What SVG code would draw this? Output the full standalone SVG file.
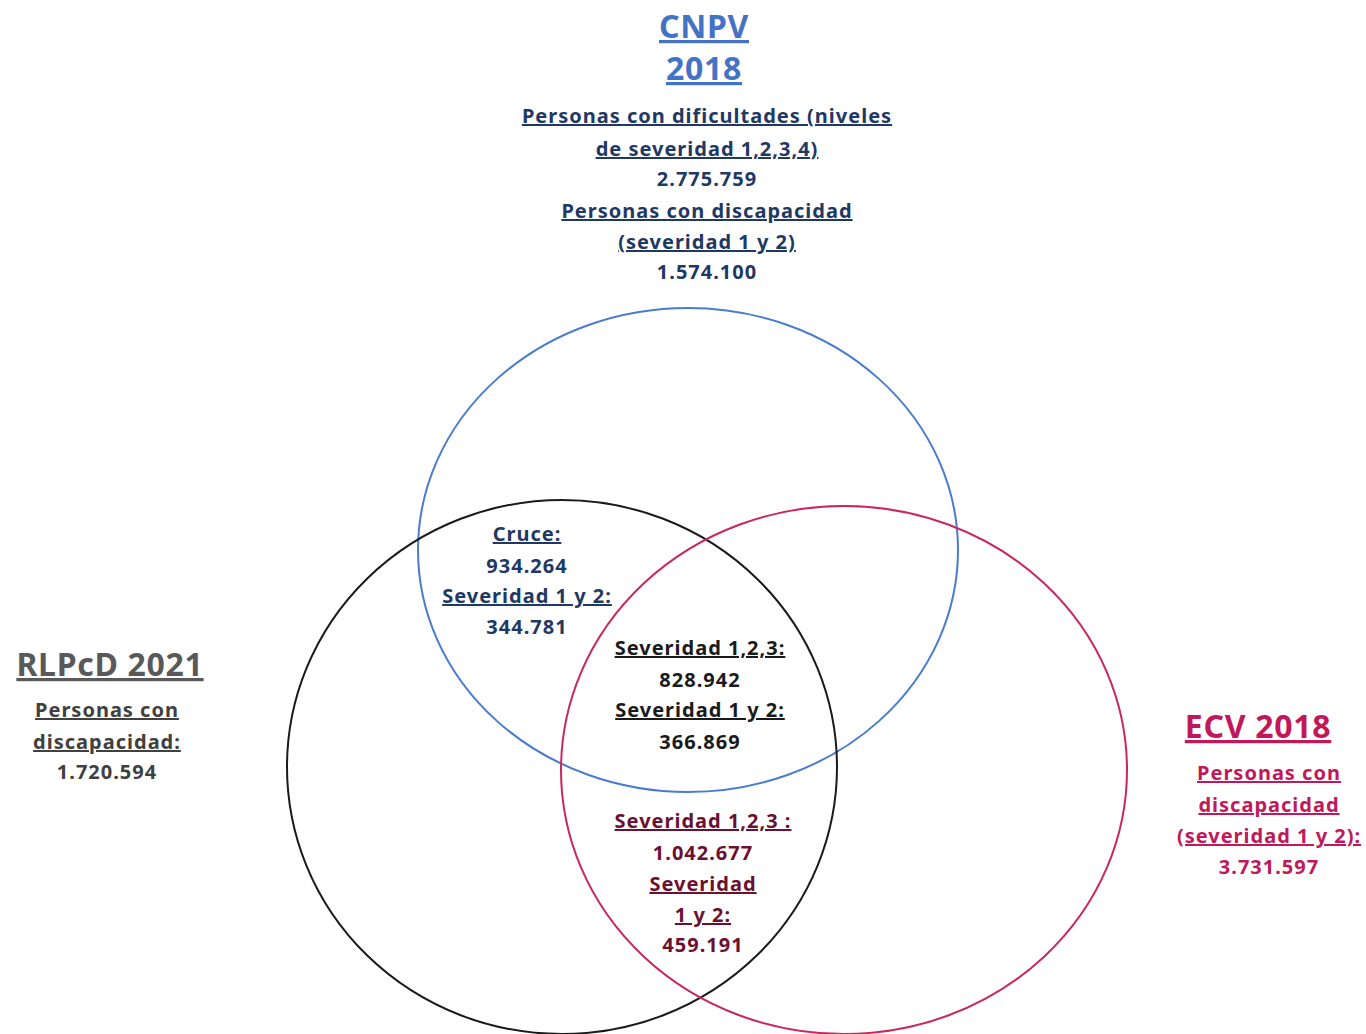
<svg xmlns="http://www.w3.org/2000/svg" width="1366" height="1034" viewBox="0 0 1366 1034">
<style>
text{font-family:"Noto Sans","Open Sans","DejaVu Sans",sans-serif;font-weight:bold;text-anchor:middle;font-size:20px;letter-spacing:1px}
.u{text-decoration:underline}
.title{font-size:32px;letter-spacing:0.7px}
.blue{fill:#4472C4}
.navy{fill:#1F3864}
.blk{fill:#1a1a1a}
.gray{fill:#595959}
.dgray{fill:#404040}
.red{fill:#C0185A}
.maroon{fill:#6B1030}
.circ{fill:none;stroke-width:2}
</style>
<rect width="1366" height="1034" fill="#fff"/>
<g id="connectors"></g>
<g id="circle-cnpv"><ellipse class="circ" cx="688" cy="550" rx="270" ry="242" stroke="#4A7BD0"/></g>
<g id="circle-rlpcd"><ellipse class="circ" cx="562" cy="767" rx="275" ry="267" stroke="#1a1a1a"/></g>
<g id="circle-ecv"><ellipse class="circ" cx="844" cy="770" rx="283" ry="264" stroke="#C8285E"/></g>
<g id="label-cnpv">
<text class="title blue u" x="704" y="38">CNPV</text>
<text class="title blue u" x="704" y="80">2018</text>
<text class="navy u" x="707" y="123">Personas con dificultades (niveles</text>
<text class="navy u" x="707" y="156">de severidad 1,2,3,4)</text>
<text class="navy" x="707" y="186">2.775.759</text>
<text class="navy u" x="707" y="218">Personas con discapacidad</text>
<text class="navy u" x="707" y="249">(severidad 1 y 2)</text>
<text class="navy" x="707" y="279">1.574.100</text>
</g>
<g id="label-cruce">
<text class="navy u" x="527" y="541">Cruce:</text>
<text class="navy" x="527" y="573">934.264</text>
<text class="navy u" x="527" y="603">Severidad 1 y 2:</text>
<text class="navy" x="527" y="634">344.781</text>
</g>
<g id="label-center">
<text class="blk u" x="700" y="655">Severidad 1,2,3:</text>
<text class="blk" x="700" y="687">828.942</text>
<text class="blk u" x="700" y="717">Severidad 1 y 2:</text>
<text class="blk" x="700" y="749">366.869</text>
</g>
<g id="label-bottom">
<text class="maroon u" x="703" y="828">Severidad 1,2,3 :</text>
<text class="maroon" x="703" y="860">1.042.677</text>
<text class="maroon u" x="703" y="891">Severidad</text>
<text class="maroon u" x="703" y="922">1 y 2:</text>
<text class="maroon" x="703" y="952">459.191</text>
</g>
<g id="label-rlpcd">
<text class="title gray u" x="110" y="676">RLPcD 2021</text>
<text class="dgray u" x="107" y="717">Personas con</text>
<text class="dgray u" x="107" y="749">discapacidad:</text>
<text class="dgray" x="107" y="779">1.720.594</text>
</g>
<g id="label-ecv">
<text class="title red u" x="1258" y="738">ECV 2018</text>
<text class="red u" x="1269" y="780">Personas con</text>
<text class="red u" x="1269" y="812">discapacidad</text>
<text class="red u" x="1269" y="843">(severidad 1 y 2):</text>
<text class="red" x="1269" y="874">3.731.597</text>
</g>
</svg>
